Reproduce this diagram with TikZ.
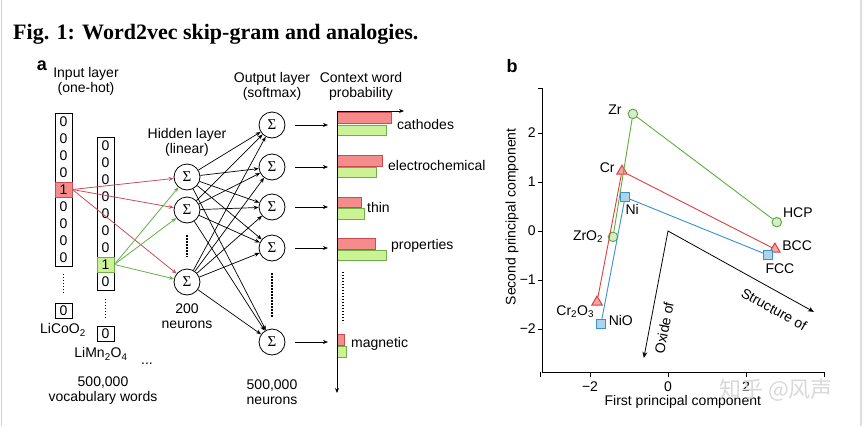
\documentclass[tikz,border=0pt]{standalone}
\usepackage{fontspec}
\setmainfont{Liberation Sans}
\newfontfamily\serifrm{Liberation Serif}
\newfontfamily\cjk{Noto Sans CJK SC}
\usetikzlibrary{arrows.meta,shapes.geometric}

\definecolor{barred}{RGB}{244,140,140}
\definecolor{barredline}{RGB}{205,75,80}
\definecolor{bargreen}{RGB}{204,242,150}
\definecolor{bargreenline}{RGB}{110,175,70}
\definecolor{linkred}{RGB}{200,80,90}
\definecolor{linkgreen}{RGB}{100,175,75}
\definecolor{ptred}{RGB}{225,60,60}
\definecolor{ptgreen}{RGB}{95,175,60}
\definecolor{ptblue}{RGB}{55,145,205}

\begin{document}
\begin{tikzpicture}[x=1pt, y=-1pt,
  font=\fontsize{14}{15}\selectfont,
  neuron/.style={circle, draw, line width=0.8pt, minimum size=26pt, inner sep=0pt, font=\fontsize{15}{15}\serifrm},
  cellbox/.style={minimum width=17pt, minimum height=15pt, inner sep=0pt},
  onered/.style={cellbox, draw=barredline, fill=barred, line width=0.8pt},
  onegreen/.style={cellbox, draw=bargreenline, fill=bargreen, line width=0.8pt},
  vdots/.style={line width=1.6pt, dash pattern=on 1.4pt off 1.6pt},
  tip/.style={-{Stealth[length=5pt,width=4pt]}},
  gmark/.style={circle, draw=ptgreen, fill=ptgreen!25, line width=1pt, minimum size=9.5pt, inner sep=0pt},
  rmark/.style={regular polygon, regular polygon sides=3, draw=ptred, fill=ptred!45, line width=1pt, minimum size=12pt, inner sep=0pt},
  bmark/.style={rectangle, draw=ptblue, fill=ptblue!40, line width=1pt, minimum size=9pt, inner sep=0pt}]

% Canvas
\fill[white] (0,0) rectangle (865,426);
\useasboundingbox (0,0) rectangle (865,426);
\draw[gray!35, line width=1.2pt] (1.5,0) -- (1.5,426);
\draw[gray!25, line width=1.2pt] (861,0) -- (861,426);

% Title and panel letters
\node[anchor=base west, inner sep=0pt, font=\fontsize{22}{24}\serifrm\bfseries] (title) at (13,39) {Fig. 1: Word2vec skip-gram and analogies.};
\node[font=\fontsize{18}{18}\selectfont\bfseries] (pa) at (42,66) {a};
\node[font=\fontsize{18}{18}\selectfont\bfseries] (pb) at (512,66) {b};

% Layer headings
\node[align=center] (inhead) at (86,81) {Input layer\\(one-hot)};
\node[align=center] (hidhead) at (187,142) {Hidden layer\\(linear)};
\node[align=center] (outhead) at (272,86) {Output layer\\(softmax)};
\node[align=center] (probhead) at (361,86) {Context word\\probability};

% Input layer, first word
\draw[line width=0.8pt] (55,113) rectangle (72,266);
\node[cellbox] (a1) at (63.5,121.5) {0};
\node[cellbox] (a2) at (63.5,138.5) {0};
\node[cellbox] (a3) at (63.5,155.5) {0};
\node[cellbox] (a4) at (63.5,172.5) {0};
\node[onered] (aone) at (63.5,189.5) {1};
\node[cellbox] (a6) at (63.5,206.5) {0};
\node[cellbox] (a7) at (63.5,223.5) {0};
\node[cellbox] (a8) at (63.5,240.5) {0};
\node[cellbox] (a9) at (63.5,257.5) {0};
\draw[vdots] (63.5,274) -- (63.5,293);
\node[cellbox, draw, line width=0.8pt] (alast) at (63.5,310.5) {0};
\node (licoo) at (63,330) {LiCoO\textsubscript{2}};

% Input layer, second word
\draw[line width=0.8pt] (97,137) rectangle (114,290);
\node[cellbox] (b1) at (105.5,145.5) {0};
\node[cellbox] (b2) at (105.5,162.5) {0};
\node[cellbox] (b3) at (105.5,179.5) {0};
\node[cellbox] (b4) at (105.5,196.5) {0};
\node[cellbox] (b5) at (105.5,213.5) {0};
\node[cellbox] (b6) at (105.5,230.5) {0};
\node[cellbox] (b7) at (105.5,247.5) {0};
\node[onegreen] (bone) at (105.5,264.5) {1};
\node[cellbox] (b9) at (105.5,281.5) {0};
\draw[vdots] (105.5,299) -- (105.5,318);
\node[cellbox, draw, line width=0.8pt] (blast) at (105.5,334) {0};
\node (limno) at (101,354) {LiMn\textsubscript{2}O\textsubscript{4}};
\node (more) at (147,364) {...};
\node[align=center] (vocab) at (103,391) {500,000\\vocabulary words};

% Hidden layer
\node[neuron] (h1) at (187,177) {Σ};
\node[neuron] (h2) at (187,210) {Σ};
\node[neuron] (h3) at (187,282) {Σ};
\draw[vdots] ([yshift=-12pt]h2.south) -- ([yshift=12pt]h3.north);
\node[align=center] (hidsize) at (187,316) {200\\neurons};

% Output layer
\node[neuron] (o1) at (272,125) {Σ};
\node[neuron] (o2) at (272,167) {Σ};
\node[neuron] (o3) at (272,207) {Σ};
\node[neuron] (o4) at (272,248) {Σ};
\node[neuron] (o5) at (272,342) {Σ};
\draw[vdots] ([yshift=-12pt]o4.south) -- ([yshift=12pt]o5.north);
\node[align=center] (outsize) at (272,392) {500,000\\neurons};

% Input to hidden
\draw[tip, linkred, line width=0.8pt] (aone.east) -- (h1);
\draw[tip, linkred, line width=0.8pt] (aone.east) -- (h2);
\draw[tip, linkred, line width=0.8pt] (aone.east) -- (h3);
\draw[tip, linkgreen, line width=0.8pt] (bone.east) -- (h1);
\draw[tip, linkgreen, line width=0.8pt] (bone.east) -- (h2);
\draw[tip, linkgreen, line width=0.8pt] (bone.east) -- (h3);

% Hidden to output
\draw[tip, line width=0.7pt] (h1) -- (o1);
\draw[tip, line width=0.7pt] (h1) -- (o2);
\draw[tip, line width=0.7pt] (h1) -- (o3);
\draw[tip, line width=0.7pt] (h1) -- (o4);
\draw[tip, line width=0.7pt] (h1) -- (o5);
\draw[tip, line width=0.7pt] (h2) -- (o1);
\draw[tip, line width=0.7pt] (h2) -- (o2);
\draw[tip, line width=0.7pt] (h2) -- (o3);
\draw[tip, line width=0.7pt] (h2) -- (o4);
\draw[tip, line width=0.7pt] (h2) -- (o5);
\draw[tip, line width=0.7pt] (h3) -- (o1);
\draw[tip, line width=0.7pt] (h3) -- (o2);
\draw[tip, line width=0.7pt] (h3) -- (o3);
\draw[tip, line width=0.7pt] (h3) -- (o4);
\draw[tip, line width=0.7pt] (h3) -- (o5);

% Output to probabilities
\coordinate (p1) at (328,125);
\coordinate (p2) at (328,167);
\coordinate (p3) at (328,207);
\coordinate (p4) at (328,248);
\coordinate (p5) at (328,342);
\draw[tip, line width=0.8pt] ([xshift=10pt]o1.east) -- (p1);
\draw[tip, line width=0.8pt] ([xshift=10pt]o2.east) -- (p2);
\draw[tip, line width=0.8pt] ([xshift=10pt]o3.east) -- (p3);
\draw[tip, line width=0.8pt] ([xshift=10pt]o4.east) -- (p4);
\draw[tip, line width=0.8pt] ([xshift=10pt]o5.east) -- (p5);

% Probability bars
\draw[barredline, fill=barred, line width=0.7pt] (337,112) rectangle (391,123);
\draw[bargreenline, fill=bargreen, line width=0.7pt] (337,125) rectangle (386,135);
\draw[barredline, fill=barred, line width=0.7pt] (337,155) rectangle (382,166);
\draw[bargreenline, fill=bargreen, line width=0.7pt] (337,167) rectangle (376,177);
\draw[barredline, fill=barred, line width=0.7pt] (337,197) rectangle (361,207);
\draw[bargreenline, fill=bargreen, line width=0.7pt] (337,208) rectangle (364,219);
\draw[barredline, fill=barred, line width=0.7pt] (337,238) rectangle (375,249);
\draw[bargreenline, fill=bargreen, line width=0.7pt] (337,250) rectangle (386,260);
\draw[barredline, fill=barred, line width=0.7pt] (337,334) rectangle (344,345);
\draw[bargreenline, fill=bargreen, line width=0.7pt] (337,346) rectangle (346,357);
\draw[vdots] (343,272) -- (343,323);
\draw[{Stealth[length=5pt,width=4pt]}-{Stealth[length=5pt,width=4pt]}, line width=0.8pt] (404,111) -- (337,111) -- (337,393);
\node[anchor=west, inner sep=0pt] (w1) at (397,124) {cathodes};
\node[anchor=west, inner sep=0pt] (w2) at (388,165) {electrochemical};
\node[anchor=west, inner sep=0pt] (w3) at (367,207) {thin};
\node[anchor=west, inner sep=0pt] (w4) at (391,246) {properties};
\node[anchor=west, inner sep=0pt] (w5) at (351,344) {magnetic};

% Panel b, principal components
\begin{scope}[shift={(668,231)}, x=39pt, y=49pt]
\draw[line width=0.8pt] (-3.21,2.92) -- (-3.21,-2.88) -- (4,-2.88);
\draw[line width=0.8pt] (-3.21,2.92) -- ++(-5pt,0);
\draw[line width=0.8pt] (-3.21,2) -- ++(-5pt,0);
\draw[line width=0.8pt] (-3.21,1) -- ++(-5pt,0);
\draw[line width=0.8pt] (-3.21,0) -- ++(-5pt,0);
\draw[line width=0.8pt] (-3.21,-1) -- ++(-5pt,0);
\draw[line width=0.8pt] (-3.21,-2) -- ++(-5pt,0);
\draw[line width=0.8pt] (-3.28,-2.88) -- ++(0,-5pt);
\draw[line width=0.8pt] (-2,-2.88) -- ++(0,-5pt);
\draw[line width=0.8pt] (0,-2.88) -- ++(0,-5pt);
\draw[line width=0.8pt] (2,-2.88) -- ++(0,-5pt);
\draw[line width=0.8pt] (4,-2.88) -- ++(0,-5pt);
\node[anchor=east] (ty2) at (-3.3,2) {2};
\node[anchor=east] (ty1) at (-3.3,1) {1};
\node[anchor=east] (ty0) at (-3.3,0) {0};
\node[anchor=east] (tym1) at (-3.3,-1) {−1};
\node[anchor=east] (tym2) at (-3.3,-2) {−2};
\node (txm2) at (-2,-3.18) {−2};
\node (tx0) at (0,-3.18) {0};
\node (tx2) at (2,-3.18) {2};
\node[rotate=90] (ylab) at (-4.0,0.29) {Second principal component};
\node (xlab) at (0.38,-3.49) {First principal component};

% analogy directions
\coordinate (orig) at (0,0);
\coordinate (strend) at (3.74,-1.65);
\coordinate (oxend) at (-0.62,-2.59);
\draw[{Stealth[length=6pt,width=5pt]}-{Stealth[length=6pt,width=5pt]}, line width=0.8pt] (oxend) -- (orig) -- (strend);
\node[rotate=-29, inner sep=1pt] (strlab) at (2.72,-1.60) {Structure of};
\node[rotate=79, inner sep=1pt] (oxlab) at (-0.10,-1.98) {Oxide of};

% points
\node[gmark] (zr) at (-0.90,2.39) {};
\node[gmark] (zro) at (-1.41,-0.12) {};
\node[gmark] (hcp) at (2.79,0.18) {};
\node[rmark] (cr) at (-1.18,1.22) {};
\node[rmark] (cro) at (-1.82,-1.45) {};
\node[rmark] (bcc) at (2.74,-0.37) {};
\node[bmark] (ni) at (-1.10,0.69) {};
\node[bmark] (nio) at (-1.72,-1.90) {};
\node[bmark] (fcc) at (2.56,-0.49) {};
\draw[ptgreen, line width=0.9pt] (zro) -- (zr) -- (hcp);
\draw[ptred, line width=0.9pt] (cro) -- (cr) -- (bcc);
\draw[ptblue, line width=0.9pt] (nio) -- (ni) -- (fcc);
\node (zrlab) at (-1.36,2.47) {Zr};
\node (crlab) at (-1.56,1.29) {Cr};
\node (nilab) at (-0.92,0.45) {Ni};
\node (zrolab) at (-2.05,-0.12) {ZrO\textsubscript{2}};
\node (crolab) at (-2.38,-1.65) {Cr\textsubscript{2}O\textsubscript{3}};
\node (niolab) at (-1.21,-1.82) {NiO};
\node (hcplab) at (3.33,0.37) {HCP};
\node (bcclab) at (3.31,-0.29) {BCC};
\node (fcclab) at (2.87,-0.76) {FCC};
\end{scope}

% watermark
\node[text=gray!30, font=\fontsize{22}{22}\cjk] (wm) at (776,390) {知乎 @风声};
\end{tikzpicture}
\end{document}
